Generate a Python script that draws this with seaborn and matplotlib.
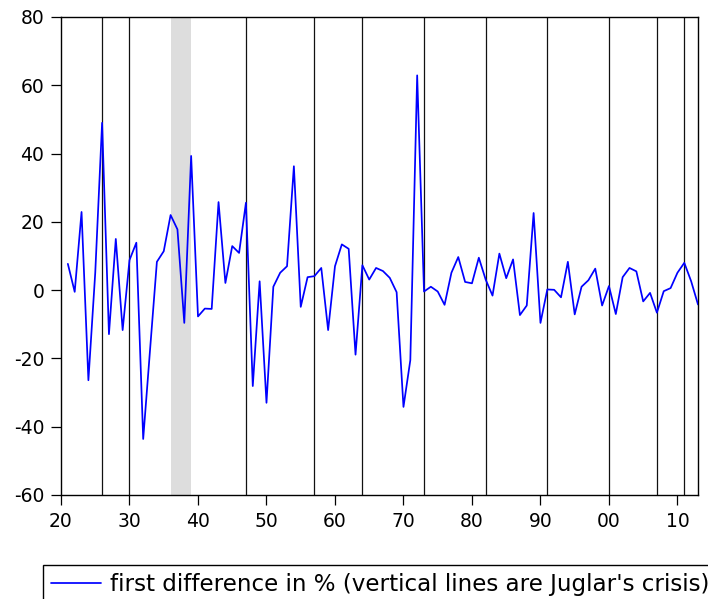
import matplotlib
matplotlib.use("Agg")
import matplotlib.pyplot as plt
import pandas as pd
import seaborn as sns

# Annual first differences (in %), 1921-2013
years = list(range(1921, 2014))
first_diff = [
    7.7, -0.5, 22.9, -26.4, 5.1, 49.0, -12.9, 15.0, -11.7, 8.8,
    13.9, -43.6, -17.5, 8.3, 11.4, 22.0, 17.8, -9.6, 39.3, -7.7,
    -5.4, -5.5, 25.8, 2.1, 12.9, 10.9, 25.6, -28.1, 2.6, -33.0,
    1.0, 5.1, 7.0, 36.3, -4.9, 3.8, 4.1, 6.5, -11.7, 7.0,
    13.4, 12.1, -18.9, 7.3, 3.1, 6.5, 5.6, 3.6, -0.6, -34.2,
    -20.5, 62.9, -0.4, 1.0, -0.4, -4.3, 5.1, 9.7, 2.4, 2.0,
    9.5, 3.1, -1.6, 10.7, 3.5, 9.0, -7.3, -4.5, 22.6, -9.6,
    0.2, 0.1, -2.1, 8.3, -7.1, 1.0, 2.9, 6.3, -4.5, 1.2,
    -7.0, 3.8, 6.5, 5.5, -3.3, -0.8, -6.6, -0.3, 0.6, 5.1,
    8.0, 2.6, -4.2,
]

# Juglar crisis years (vertical lines) and the shaded period
crisis_years = [1926, 1930, 1947, 1957, 1964, 1973, 1982, 1991, 2000, 2007, 2011]
shade_start, shade_end = 1936, 1939

x_ticks = [1920, 1930, 1940, 1950, 1960, 1970, 1980, 1990, 2000, 2010]
x_tick_labels = ["20", "30", "40", "50", "60", "70", "80", "90", "00", "10"]
y_ticks = [-60, -40, -20, 0, 20, 40, 60, 80]

legend_label = "first difference in % (vertical lines are Juglar's crisis)"

df = pd.DataFrame({"year": years, "value": first_diff})

sns.set_style("ticks")
plt.rcParams["font.family"] = ["DejaVu Sans"]
plt.rcParams["axes.unicode_minus"] = False
plt.rcParams["text.color"] = "black"

fig = plt.figure(figsize=(7.08, 5.99), dpi=100)
ax = fig.add_axes([61 / 708, 1 - 495 / 599, 637 / 708, 478 / 599])

ax.axvspan(shade_start, shade_end, color="#dddddd", lw=0, zorder=0)
for yr in crisis_years:
    ax.axvline(yr, color="#111111", lw=0.9, zorder=1)

sns.lineplot(data=df, x="year", y="value", ax=ax, color="#0000ff",
             lw=1.25, label=legend_label, legend=False, zorder=3)

ax.set_xlim(1920, 2013)
ax.set_ylim(-60, 80)
ax.set_xticks(x_ticks)
ax.set_xticklabels(x_tick_labels)
ax.set_yticks(y_ticks)
ax.set_yticklabels([str(v) for v in y_ticks])
ax.set_xlabel("")
ax.set_ylabel("")

for side in ["top", "right", "bottom", "left"]:
    ax.spines[side].set_visible(True)
    ax.spines[side].set_color("black")
    ax.spines[side].set_linewidth(1.0)

ax.tick_params(axis="both", direction="out", length=7, width=0.9,
               color="black", labelsize=13.5, labelcolor="black")
ax.tick_params(axis="x", pad=5)
ax.tick_params(axis="y", pad=5)

handles, labels = ax.get_legend_handles_labels()
leg = fig.legend(handles, labels, loc="upper left",
                 bbox_to_anchor=(43 / 708, 1 - 565 / 599),
                 frameon=True, fancybox=False, shadow=False,
                 fontsize=16.6, labelcolor="black",
                 handlelength=2.15, handletextpad=0.4,
                 borderpad=0.35, borderaxespad=0.0)
leg.get_frame().set_edgecolor("black")
leg.get_frame().set_linewidth(1.0)
leg.get_frame().set_alpha(1.0)

fig.savefig("out.png", dpi=100)
